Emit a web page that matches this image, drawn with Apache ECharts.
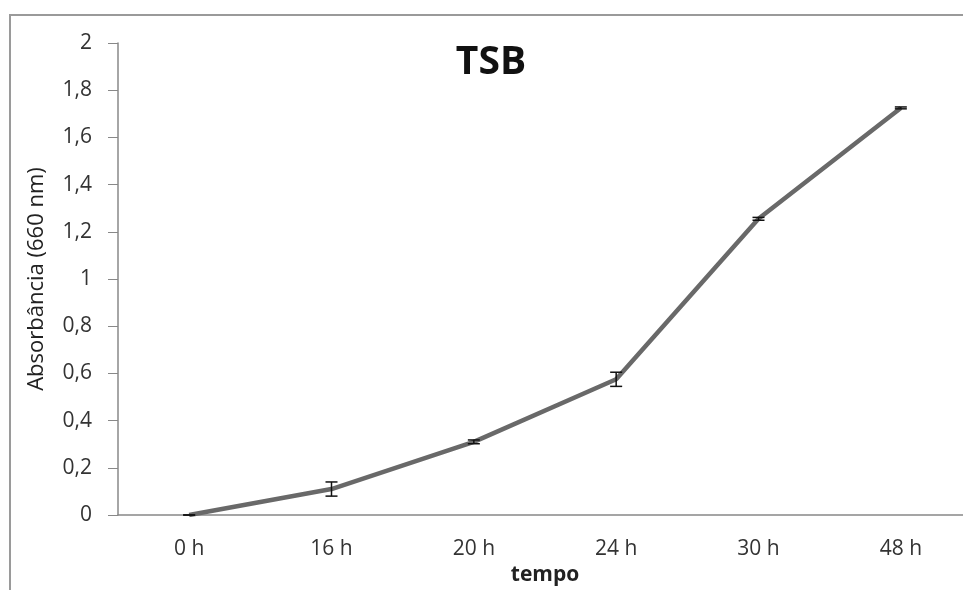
<!DOCTYPE html>
<html>
<head>
<meta charset="utf-8">
<script src="https://cdn.jsdelivr.net/npm/echarts@6/dist/echarts.min.js"></script>
<style>
  html, body { margin: 0; padding: 0; background: #fff; }
  #chart { width: 963px; height: 590px; }
</style>
</head>
<body>
<div id="chart"></div>
<script>
  const categories = ['0 h', '16 h', '20 h', '24 h', '30 h', '48 h']
  const absorbance = [0, 0.11, 0.31, 0.575, 1.255, 1.725]
  const errors = [0, 0.03, 0.008, 0.03, 0.006, 0.004]

  let chart = echarts.init(document.getElementById('chart'))

  let errorData = absorbance.map((v, i) => [i, v - errors[i], v + errors[i]])

  let option = {
    backgroundColor: '#fff',
    animation: false,
    textStyle: { fontFamily: 'Open Sans' },
    title: {
      text: 'TSB',
      left: 486,
      top: 38,
      textAlign: 'center',
      textStyle: { fontSize: 39, fontWeight: 'bold', color: '#111', fontFamily: 'Open Sans' }
    },
    graphic: [{
      type: 'rect',
      shape: { x: 10, y: 15, width: 1000, height: 700 },
      style: { fill: 'none', stroke: '#9a9a9a', lineWidth: 2 },
      silent: true
    }],
    grid: { left: 118, right: -9, top: 43, bottom: 75, containLabel: false, outerBoundsMode: 'none' },
    xAxis: {
      type: 'category',
      data: categories,
      boundaryGap: true,
      name: 'tempo',
      nameLocation: 'middle',
      nameGap: 48,
      nameTextStyle: { fontSize: 21, fontWeight: 'bold', color: '#222' },
      axisLine: { lineStyle: { color: '#888', width: 1.5 } },
      axisTick: { length: 8, lineStyle: { color: '#888' } },
      axisLabel: { fontSize: 21, color: '#333', margin: 24 }
    },
    yAxis: {
      type: 'value',
      min: 0,
      max: 2,
      interval: 0.2,
      name: 'Absorbância (660 nm)',
      nameLocation: 'middle',
      nameGap: 70,
      nameTextStyle: { fontSize: 22, color: '#222' },
      splitLine: { show: false },
      axisLine: { show: true, lineStyle: { color: '#888', width: 1.5 } },
      axisTick: { show: true, length: 10, lineStyle: { color: '#888' } },
      axisLabel: {
        fontSize: 21,
        color: '#333',
        margin: 26,
        formatter: v => String(Math.round(v * 10) / 10).replace('.', ',')
      }
    },
    series: [{
      type: 'line',
      data: absorbance,
      symbol: 'none',
      lineStyle: { color: '#696969', width: 4.5 },
      z: 2
    }, {
      type: 'custom',
      data: errorData,
      z: 3,
      renderItem: (params, api) => {
        let x = api.value(0)
        let lo = api.coord([x, api.value(1)])
        let hi = api.coord([x, api.value(2)])
        let w = 6
        let style = { stroke: '#111', lineWidth: 1.5 }
        return {
          type: 'group',
          children: [
            { type: 'line', shape: { x1: lo[0], y1: lo[1], x2: hi[0], y2: hi[1] }, style: style },
            { type: 'line', shape: { x1: lo[0] - w, y1: lo[1], x2: lo[0] + w, y2: lo[1] }, style: style },
            { type: 'line', shape: { x1: hi[0] - w, y1: hi[1], x2: hi[0] + w, y2: hi[1] }, style: style }
          ]
        }
      }
    }]
  }
  chart.setOption(option)
</script>
</body>
</html>
